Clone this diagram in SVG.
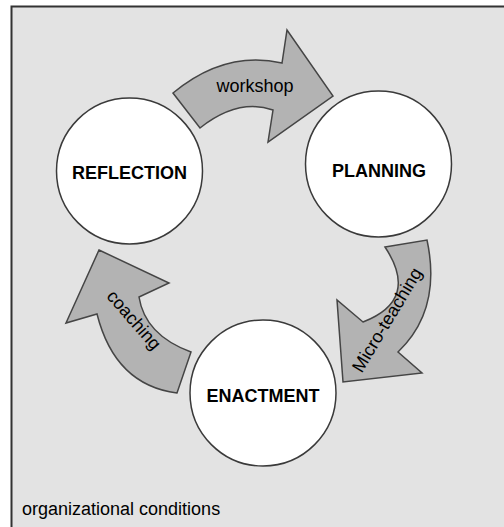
<svg xmlns="http://www.w3.org/2000/svg" width="504" height="527" viewBox="0 0 504 527">
<style>
.node{fill:#ffffff;stroke:#3a3a3a;stroke-width:1.5}
.lbl{font-family:"Liberation Sans",Arial,sans-serif;font-size:18px;font-weight:bold;fill:#000;text-anchor:middle}
.arr{fill:#b3b3b3;stroke:#454545;stroke-width:1.5;stroke-linejoin:miter}
.albl{font-family:"Liberation Sans",Arial,sans-serif;font-size:18px;fill:#000;text-anchor:middle}
</style>
<rect x="0" y="0" width="504" height="527" fill="#ffffff"/>
<rect x="12" y="7" width="492" height="520" fill="#e3e3e3"/>
<path d="M11.5,527 V6.5 H504" fill="none" stroke="#333" stroke-width="2"/>
<g id="connectors">
<g id="workshop">
<path class="arr" d="M173,93 Q225,50 282,63 L287,30 L333,96 L268,142 L273,110 Q238,98 200,128 Z"/>
<text class="albl" x="255" y="92">workshop</text>
</g>
<g id="micro-teaching">
<path class="arr" d="M385,247 L427,240 Q442,310 398,352 L422,373 L343,382 L337,300 L363,322 Q420,300 385,247 Z"/>
<text class="albl" transform="translate(387,320) rotate(-59)" y="6">Micro-teaching</text>
</g>
<g id="coaching">
<path class="arr" d="M99,250 L169,283 L139,297 Q145,335 191,352 L177,393 Q115,385 97,314 L66,323 Z"/>
<text class="albl" transform="translate(134,320) rotate(49)" y="6">coaching</text>
</g>
</g>
<g id="reflection">
<circle class="node" cx="129.5" cy="171" r="73"/>
<text class="lbl" x="129.5" y="179">REFLECTION</text>
</g>
<g id="planning">
<circle class="node" cx="378.5" cy="164" r="73"/>
<text class="lbl" x="379" y="177">PLANNING</text>
</g>
<g id="enactment">
<circle class="node" cx="263" cy="393" r="73"/>
<text class="lbl" x="263" y="402">ENACTMENT</text>
</g>
<text x="22" y="515" font-family="Liberation Sans,Arial,sans-serif" font-size="18" fill="#000">organizational conditions</text>
</svg>
